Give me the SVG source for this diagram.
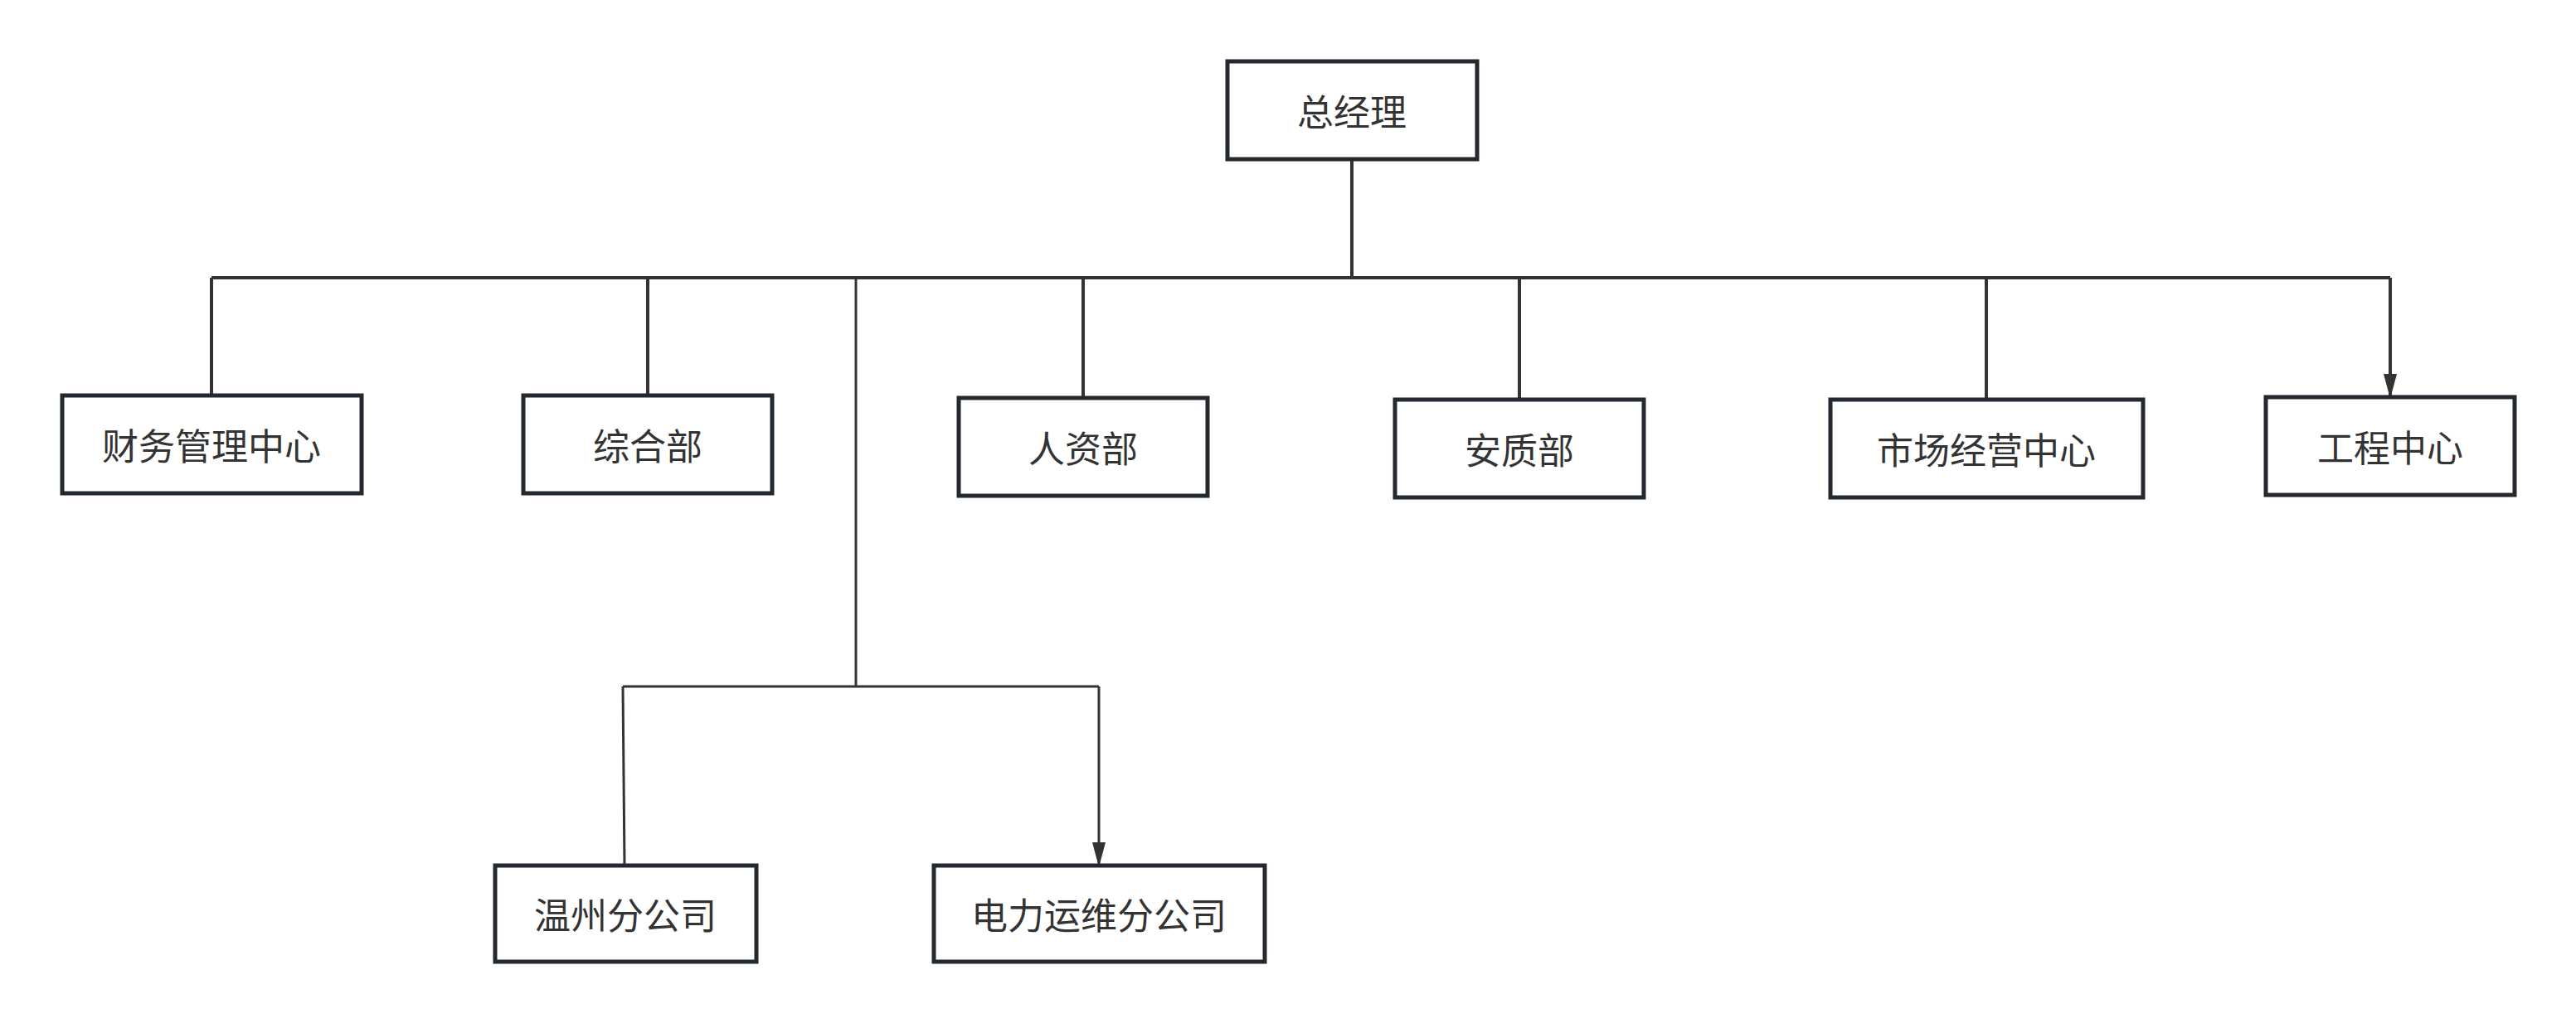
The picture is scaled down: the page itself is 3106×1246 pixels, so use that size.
<svg xmlns="http://www.w3.org/2000/svg" width="3106" height="1246" viewBox="0 0 3106 1246">
<style>
.b{fill:#fff;stroke:#23292f;stroke-width:5}
.t{font-family:"Noto Sans CJK SC","Liberation Sans",sans-serif;font-size:44px;fill:#333;text-anchor:middle;dominant-baseline:central}
.c{fill:none;stroke:#333;stroke-width:4}
.c2{fill:none;stroke:#333;stroke-width:3}
</style>
<defs><marker id="a" viewBox="0 0 10 20" refX="5" refY="20" markerWidth="10" markerHeight="20" markerUnits="userSpaceOnUse" orient="auto-start-reverse"><path d="M0 0L10 0L5 20Z" fill="#333" transform="rotate(0)"/></marker>
<marker id="m" viewBox="0 0 30 16" refX="28" refY="8" markerWidth="30" markerHeight="16" markerUnits="userSpaceOnUse" orient="auto"><path d="M0 0L30 8L0 16Z" fill="#333"/></marker></defs>
<g id="connectors">
<path class="c" d="M1630 192V335M255 335H2882"/>
<path class="c" d="M255 335V477M781 335V477M1306 335V480M1832 335V482M2395 335V482M2882 335V479" marker-end="url(#m)"/>
<path class="c2" d="M1032 333V828M751 828H1325"/>
<path class="c2" d="M751 828L753 1044M1325 828V1044" marker-end="url(#m)"/>
</g>
<g id="n0"><rect class="b" x="1480" y="74" width="301" height="118"/><text class="t" x="1630" y="133">总经理</text></g>
<g id="n1"><rect class="b" x="75" y="477" width="361" height="118"/><text class="t" x="255" y="536">财务管理中心</text></g>
<g id="n2"><rect class="b" x="631" y="477" width="300" height="118"/><text class="t" x="781" y="536">综合部</text></g>
<g id="n3"><rect class="b" x="1156" y="480" width="300" height="118"/><text class="t" x="1306" y="539">人资部</text></g>
<g id="n4"><rect class="b" x="1682" y="482" width="300" height="118"/><text class="t" x="1832" y="541">安质部</text></g>
<g id="n5"><rect class="b" x="2207" y="482" width="377" height="118"/><text class="t" x="2395" y="541">市场经营中心</text></g>
<g id="n6"><rect class="b" x="2732" y="479" width="300" height="118"/><text class="t" x="2882" y="538">工程中心</text></g>
<g id="n7"><rect class="b" x="597" y="1044" width="315" height="116"/><text class="t" x="754" y="1102">温州分公司</text></g>
<g id="n8"><rect class="b" x="1126" y="1044" width="399" height="116"/><text class="t" x="1325" y="1102">电力运维分公司</text></g>
</svg>
